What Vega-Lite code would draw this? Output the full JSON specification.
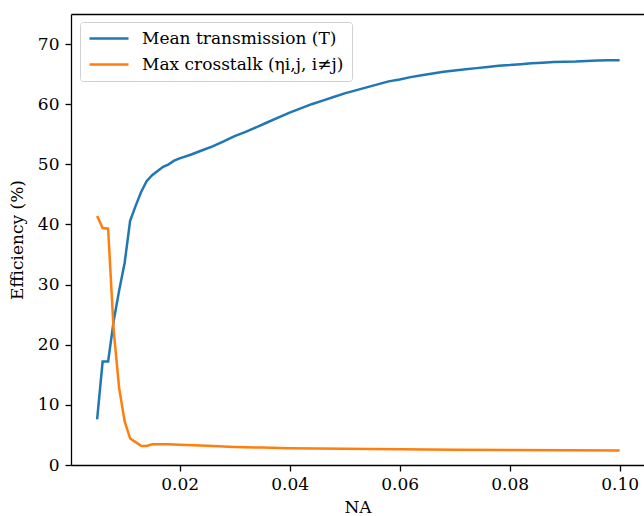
{
  "$schema": "https://vega.github.io/schema/vega-lite/v6.json",
  "width": 573,
  "height": 451,
  "autosize": {"type": "none"},
  "padding": {"left": 71, "top": 14, "right": 0, "bottom": 51},
  "background": "white",
  "config": {
    "view": {"stroke": null},
    "font": "DejaVu Serif",
    "axis": {
      "labelFont": "DejaVu Serif", "labelFontSize": 17, "labelColor": "black",
      "titleFont": "DejaVu Serif", "titleFontSize": 17, "titleFontWeight": "normal", "titleColor": "black",
      "domainColor": "black", "domainWidth": 1.3, "tickColor": "black", "tickWidth": 1.3, "tickSize": 6,
      "grid": false
    },
    "legend": {
      "labelFont": "DejaVu Serif", "labelFontSize": 17, "labelColor": "black", "labelLimit": 0
    }
  },
  "datasets": {
    "curves": [
      {"NA": 0.005, "eff": 7.6, "series": "Mean transmission (T)"},
      {"NA": 0.006, "eff": 17.2, "series": "Mean transmission (T)"},
      {"NA": 0.007, "eff": 17.2, "series": "Mean transmission (T)"},
      {"NA": 0.008, "eff": 23.9, "series": "Mean transmission (T)"},
      {"NA": 0.009, "eff": 29.0, "series": "Mean transmission (T)"},
      {"NA": 0.010, "eff": 33.6, "series": "Mean transmission (T)"},
      {"NA": 0.011, "eff": 40.6, "series": "Mean transmission (T)"},
      {"NA": 0.012, "eff": 43.1, "series": "Mean transmission (T)"},
      {"NA": 0.013, "eff": 45.4, "series": "Mean transmission (T)"},
      {"NA": 0.014, "eff": 47.2, "series": "Mean transmission (T)"},
      {"NA": 0.015, "eff": 48.2, "series": "Mean transmission (T)"},
      {"NA": 0.016, "eff": 48.9, "series": "Mean transmission (T)"},
      {"NA": 0.017, "eff": 49.6, "series": "Mean transmission (T)"},
      {"NA": 0.018, "eff": 50.0, "series": "Mean transmission (T)"},
      {"NA": 0.019, "eff": 50.6, "series": "Mean transmission (T)"},
      {"NA": 0.020, "eff": 51.0, "series": "Mean transmission (T)"},
      {"NA": 0.022, "eff": 51.6, "series": "Mean transmission (T)"},
      {"NA": 0.024, "eff": 52.3, "series": "Mean transmission (T)"},
      {"NA": 0.026, "eff": 53.0, "series": "Mean transmission (T)"},
      {"NA": 0.028, "eff": 53.8, "series": "Mean transmission (T)"},
      {"NA": 0.030, "eff": 54.7, "series": "Mean transmission (T)"},
      {"NA": 0.032, "eff": 55.4, "series": "Mean transmission (T)"},
      {"NA": 0.034, "eff": 56.2, "series": "Mean transmission (T)"},
      {"NA": 0.036, "eff": 57.0, "series": "Mean transmission (T)"},
      {"NA": 0.038, "eff": 57.8, "series": "Mean transmission (T)"},
      {"NA": 0.040, "eff": 58.6, "series": "Mean transmission (T)"},
      {"NA": 0.042, "eff": 59.3, "series": "Mean transmission (T)"},
      {"NA": 0.044, "eff": 60.0, "series": "Mean transmission (T)"},
      {"NA": 0.046, "eff": 60.6, "series": "Mean transmission (T)"},
      {"NA": 0.048, "eff": 61.2, "series": "Mean transmission (T)"},
      {"NA": 0.050, "eff": 61.8, "series": "Mean transmission (T)"},
      {"NA": 0.052, "eff": 62.3, "series": "Mean transmission (T)"},
      {"NA": 0.054, "eff": 62.8, "series": "Mean transmission (T)"},
      {"NA": 0.056, "eff": 63.3, "series": "Mean transmission (T)"},
      {"NA": 0.058, "eff": 63.8, "series": "Mean transmission (T)"},
      {"NA": 0.060, "eff": 64.1, "series": "Mean transmission (T)"},
      {"NA": 0.062, "eff": 64.5, "series": "Mean transmission (T)"},
      {"NA": 0.064, "eff": 64.8, "series": "Mean transmission (T)"},
      {"NA": 0.066, "eff": 65.1, "series": "Mean transmission (T)"},
      {"NA": 0.068, "eff": 65.4, "series": "Mean transmission (T)"},
      {"NA": 0.070, "eff": 65.6, "series": "Mean transmission (T)"},
      {"NA": 0.072, "eff": 65.8, "series": "Mean transmission (T)"},
      {"NA": 0.074, "eff": 66.0, "series": "Mean transmission (T)"},
      {"NA": 0.076, "eff": 66.2, "series": "Mean transmission (T)"},
      {"NA": 0.078, "eff": 66.4, "series": "Mean transmission (T)"},
      {"NA": 0.080, "eff": 66.5, "series": "Mean transmission (T)"},
      {"NA": 0.082, "eff": 66.65, "series": "Mean transmission (T)"},
      {"NA": 0.084, "eff": 66.8, "series": "Mean transmission (T)"},
      {"NA": 0.086, "eff": 66.9, "series": "Mean transmission (T)"},
      {"NA": 0.088, "eff": 67.0, "series": "Mean transmission (T)"},
      {"NA": 0.090, "eff": 67.05, "series": "Mean transmission (T)"},
      {"NA": 0.092, "eff": 67.1, "series": "Mean transmission (T)"},
      {"NA": 0.094, "eff": 67.2, "series": "Mean transmission (T)"},
      {"NA": 0.096, "eff": 67.25, "series": "Mean transmission (T)"},
      {"NA": 0.098, "eff": 67.3, "series": "Mean transmission (T)"},
      {"NA": 0.100, "eff": 67.3, "series": "Mean transmission (T)"},
      {"NA": 0.005, "eff": 41.4, "series": "Max crosstalk (ηi,j, i≠j)"},
      {"NA": 0.006, "eff": 39.4, "series": "Max crosstalk (ηi,j, i≠j)"},
      {"NA": 0.007, "eff": 39.3, "series": "Max crosstalk (ηi,j, i≠j)"},
      {"NA": 0.008, "eff": 22.5, "series": "Max crosstalk (ηi,j, i≠j)"},
      {"NA": 0.009, "eff": 12.8, "series": "Max crosstalk (ηi,j, i≠j)"},
      {"NA": 0.010, "eff": 7.3, "series": "Max crosstalk (ηi,j, i≠j)"},
      {"NA": 0.011, "eff": 4.4, "series": "Max crosstalk (ηi,j, i≠j)"},
      {"NA": 0.012, "eff": 3.8, "series": "Max crosstalk (ηi,j, i≠j)"},
      {"NA": 0.013, "eff": 3.2, "series": "Max crosstalk (ηi,j, i≠j)"},
      {"NA": 0.014, "eff": 3.15, "series": "Max crosstalk (ηi,j, i≠j)"},
      {"NA": 0.015, "eff": 3.45, "series": "Max crosstalk (ηi,j, i≠j)"},
      {"NA": 0.016, "eff": 3.45, "series": "Max crosstalk (ηi,j, i≠j)"},
      {"NA": 0.018, "eff": 3.45, "series": "Max crosstalk (ηi,j, i≠j)"},
      {"NA": 0.020, "eff": 3.35, "series": "Max crosstalk (ηi,j, i≠j)"},
      {"NA": 0.025, "eff": 3.2, "series": "Max crosstalk (ηi,j, i≠j)"},
      {"NA": 0.030, "eff": 3.0, "series": "Max crosstalk (ηi,j, i≠j)"},
      {"NA": 0.035, "eff": 2.9, "series": "Max crosstalk (ηi,j, i≠j)"},
      {"NA": 0.040, "eff": 2.8, "series": "Max crosstalk (ηi,j, i≠j)"},
      {"NA": 0.050, "eff": 2.7, "series": "Max crosstalk (ηi,j, i≠j)"},
      {"NA": 0.060, "eff": 2.6, "series": "Max crosstalk (ηi,j, i≠j)"},
      {"NA": 0.070, "eff": 2.55, "series": "Max crosstalk (ηi,j, i≠j)"},
      {"NA": 0.080, "eff": 2.5, "series": "Max crosstalk (ηi,j, i≠j)"},
      {"NA": 0.090, "eff": 2.45, "series": "Max crosstalk (ηi,j, i≠j)"},
      {"NA": 0.100, "eff": 2.4, "series": "Max crosstalk (ηi,j, i≠j)"}
    ]
  },
  "data": {"name": "curves"},
  "layer": [
    {
      "mark": {"type": "line", "strokeWidth": 2.5},
      "encoding": {
        "x": {
          "field": "NA", "type": "quantitative", "title": "NA",
          "scale": {"domain": [0.00025, 0.10443], "nice": false, "zero": false},
          "axis": {"values": [0.02, 0.04, 0.06, 0.08, 0.10], "format": ".2f", "labelPadding": 5, "titlePadding": 7, "labelFlush": false}
        },
        "y": {
          "field": "eff", "type": "quantitative", "title": "Efficiency (%)",
          "scale": {"domain": [0, 75], "nice": false},
          "axis": {"values": [0, 10, 20, 30, 40, 50, 60, 70], "labelPadding": 6, "titlePadding": 11, "labelFlush": false}
        },
        "color": {
          "field": "series", "type": "nominal", "sort": null,
          "scale": {"domain": ["Mean transmission (T)", "Max crosstalk (ηi,j, i≠j)"], "range": ["#1f77b4", "#ff7f0e"]},
          "legend": {
            "title": null, "orient": "none", "legendX": 9, "legendY": 8,
            "symbolType": "stroke", "symbolSize": 1521, "symbolStrokeWidth": 2.5,
            "clipHeight": 17, "rowPadding": 8, "labelOffset": 12, "padding": 8, "labelLimit": 0,
            "fillColor": "rgba(255,255,255,0.8)", "strokeColor": "#d0d0d0", "cornerRadius": 3
          }
        }
      }
    },
    {
      "mark": {"type": "rule", "color": "transparent"},
      "encoding": {
        "x": {
          "field": "NA", "type": "quantitative",
          "axis": {"orient": "top", "labels": false, "ticks": false, "title": null}
        }
      }
    }
  ],
  "resolve": {"axis": {"x": "independent"}}
}
